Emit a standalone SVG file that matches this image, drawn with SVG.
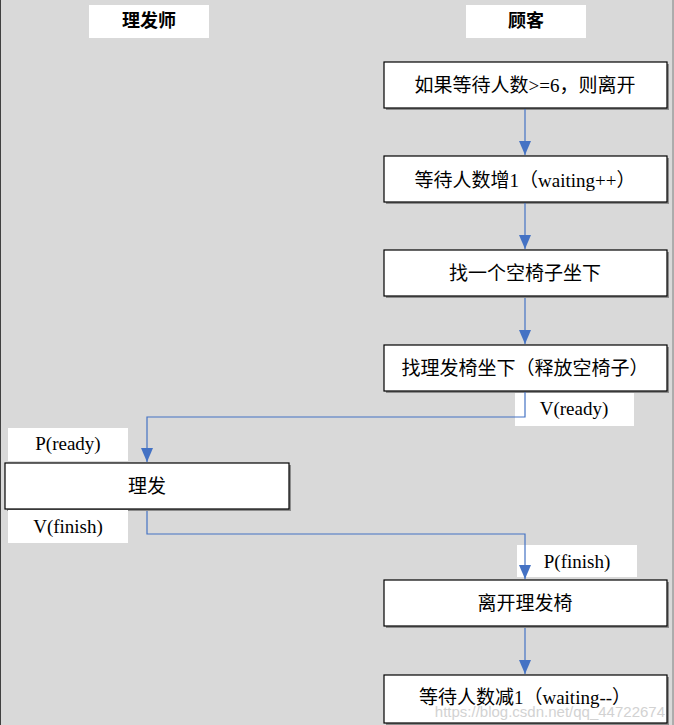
<svg xmlns="http://www.w3.org/2000/svg" width="674" height="725" viewBox="0 0 674 725">
<defs>
<style>
.bg{fill:#d9d9d9}
.node{fill:#ffffff;stroke:#000000;stroke-width:1.2}
.shadow{fill:#8c8c8c}
.lbl{fill:#ffffff}
.t{font-family:"Liberation Serif","Noto Sans CJK SC",serif;font-size:19px;fill:#000000;text-anchor:middle;dominant-baseline:central}
.h{font-family:"Liberation Serif","Noto Sans CJK SC",serif;font-size:18px;font-weight:bold;fill:#000000;text-anchor:middle;dominant-baseline:central}
.c{fill:none;stroke:#4472c4;stroke-width:1.2}
.wm{font-family:"Liberation Sans",sans-serif;font-size:15px;fill:#c8c8c8;opacity:0.8;text-anchor:end}
</style>
<marker id="arr" markerWidth="14" markerHeight="12" refX="14" refY="6" orient="auto" markerUnits="userSpaceOnUse" viewBox="0 0 14 12">
<path d="M0,0 L14,6 L0,12 Z" fill="#4472c4"/>
</marker>
</defs>
<rect class="bg" x="0" y="0" width="674" height="725"/>
<line x1="0.5" y1="0" x2="0.5" y2="725" stroke="#404040" stroke-width="1"/>
<line x1="673" y1="0" x2="673" y2="725" stroke="#808080" stroke-width="1"/>

<g id="header-barber">
<rect class="lbl" x="89" y="5" width="120" height="33"/>
<text class="h" x="149" y="21">理发师</text>
</g>
<g id="header-customer">
<rect class="lbl" x="466" y="5" width="120" height="33"/>
<text class="h" x="526" y="21">顾客</text>
</g>

<g id="n1">
<rect class="shadow" x="386" y="64" width="283" height="46"/>
<rect class="node" x="384" y="62" width="283" height="46"/>
<text class="t" x="525" y="85">如果等待人数&gt;=6，则离开</text>
</g>
<g id="n2">
<rect class="shadow" x="386" y="158" width="283" height="46"/>
<rect class="node" x="384" y="156" width="283" height="46"/>
<text class="t" x="525" y="180">等待人数增1（waiting++）</text>
</g>
<g id="n3">
<rect class="shadow" x="386" y="252" width="283" height="46"/>
<rect class="node" x="384" y="250" width="283" height="46"/>
<text class="t" x="525" y="273">找一个空椅子坐下</text>
</g>
<g id="n4">
<rect class="shadow" x="386" y="347" width="283" height="46"/>
<rect class="node" x="384" y="345" width="283" height="46"/>
<text class="t" x="525" y="368">找理发椅坐下（释放空椅子）</text>
</g>
<g id="lbl-vready">
<rect class="lbl" x="515" y="393" width="119" height="33"/>
<text class="t" x="574" y="408">V(ready)</text>
</g>
<g id="lbl-pready">
<rect class="lbl" x="8" y="428" width="120" height="33"/>
<text class="t" x="68" y="443">P(ready)</text>
</g>
<g id="n5">
<rect class="shadow" x="7" y="465" width="284" height="46"/>
<rect class="node" x="5" y="463" width="284" height="46"/>
<text class="t" x="147" y="486">理发</text>
</g>
<g id="lbl-vfinish">
<rect class="lbl" x="8" y="510" width="120" height="33"/>
<text class="t" x="68" y="526">V(finish)</text>
</g>
<g id="lbl-pfinish">
<rect class="lbl" x="517" y="545" width="120" height="32"/>
<text class="t" x="577" y="561">P(finish)</text>
</g>
<g id="n6">
<rect class="shadow" x="386" y="582" width="283" height="46"/>
<rect class="node" x="384" y="580" width="283" height="46"/>
<text class="t" x="525" y="603">离开理发椅</text>
</g>
<g id="n7">
<rect class="shadow" x="386" y="677" width="283" height="48"/>
<rect class="node" x="384" y="675" width="283" height="48"/>
<text class="t" x="525" y="697">等待人数减1（waiting--）</text>
</g>

<g id="connectors">
<line class="c" x1="525" y1="109" x2="525" y2="155" marker-end="url(#arr)"/>
<line class="c" x1="525" y1="203" x2="525" y2="249" marker-end="url(#arr)"/>
<line class="c" x1="525" y1="298" x2="525" y2="344" marker-end="url(#arr)"/>
<polyline class="c" points="525,392 525,417 147,417 147,462" marker-end="url(#arr)"/>
<polyline class="c" points="147,511 147,534 525,534 525,579" marker-end="url(#arr)"/>
<line class="c" x1="525" y1="628" x2="525" y2="674" marker-end="url(#arr)"/>
</g>
<text class="wm" x="665" y="717">https://blog.csdn.net/qq_44722674</text>
</svg>
